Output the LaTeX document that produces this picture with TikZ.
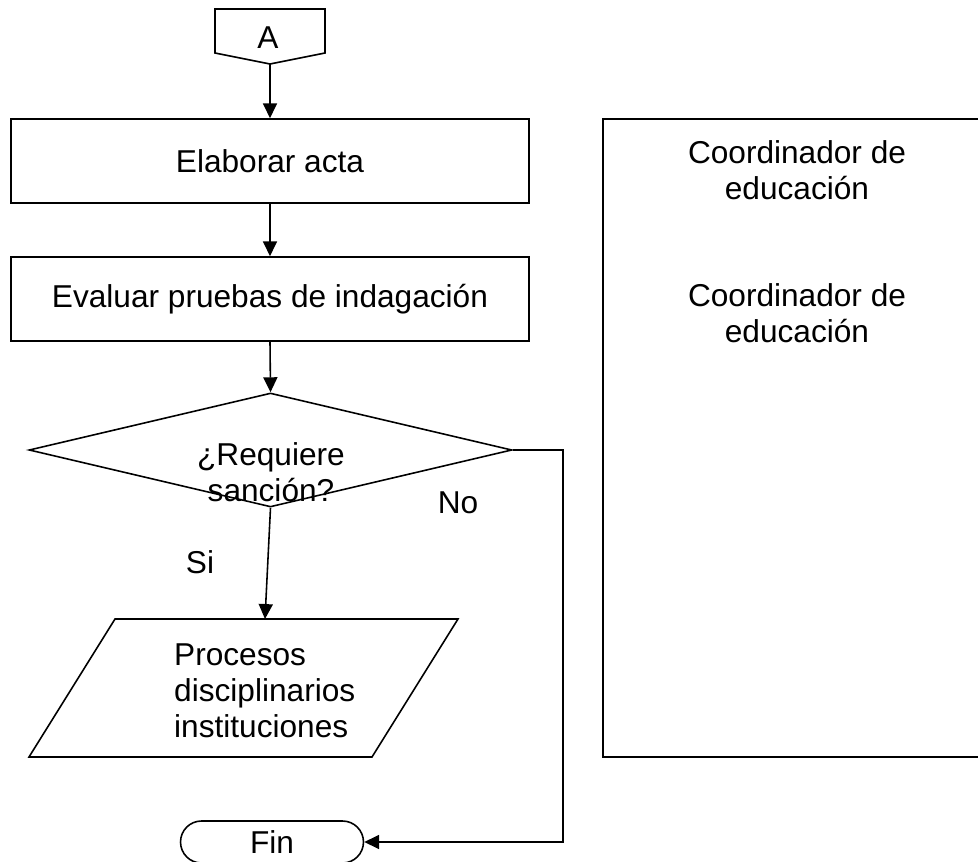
\documentclass[tikz,border=0pt]{standalone}
\usepackage{fontspec}
\setmainfont{Liberation Sans}
\usetikzlibrary{arrows.meta,shapes.geometric,shapes.misc}
\begin{document}
\begin{tikzpicture}[x=0.02cm, y=-0.02cm, >={Triangle[width=8pt,length=8.5pt]},
    every node/.style={font=\fontsize{18}{20.5}\selectfont, align=center},
    box/.style={draw, line width=0.9pt, minimum width=10.36cm, minimum height=1.68cm, inner sep=0pt},
    decision/.style={draw, diamond, line width=0.9pt, minimum width=9.66cm, minimum height=2.28cm, inner sep=0pt},
    terminal/.style={draw, rounded rectangle, line width=0.9pt, minimum width=3.66cm, minimum height=0.84cm, inner sep=0pt},
    flow/.style={->, line width=0.9pt}]
    \clip (0,0) rectangle (978,862);

    % conector de pagina
    \draw[line width=0.9pt] (215,9) -- (325,9) -- (325,53) -- (270,64) -- (215,53) -- cycle;
    \node (conA) at (268,38) {A};
    \coordinate (conAtip) at (270,64);

    \node[box] (acta) at (270,161) {Elaborar acta};
    \node[box] (evaluar) at (270,299) {Evaluar pruebas de indagaci\'on};
    \node[decision] (dec) at (270.5,450) {};
    \node (dectext) at (271,472) {¿Requiere\\sanci\'on?};

    % datos
    \draw[line width=0.9pt] (115,619) -- (458,619) -- (372,757) -- (29,757) -- cycle;
    \coordinate (procTop) at (265,619);
    \node[anchor=west, align=left] (proc) at (168,691) {Procesos\\disciplinarios\\instituciones};

    \node[terminal] (fin) at (272,842) {Fin};

    \draw[flow] (conAtip) -- (acta);
    \draw[flow] (acta) -- (evaluar);
    \draw[flow] (evaluar.south) -- (dec.north);
    \draw[flow] (dec.south) -- (procTop);
    \draw[flow] (dec.east) -- ++(50,0) |- (fin.east);
    \node (si) at (200,562) {Si};
    \node (no) at (458,503) {No};

    % responsable
    \draw[line width=0.9pt] (1000,119) -- (603,119) -- (603,757) -- (1000,757);
    \node (coord1) at (797,170) {Coordinador de\\educaci\'on};
    \node (coord2) at (797,313) {Coordinador de\\educaci\'on};
\end{tikzpicture}
\end{document}
